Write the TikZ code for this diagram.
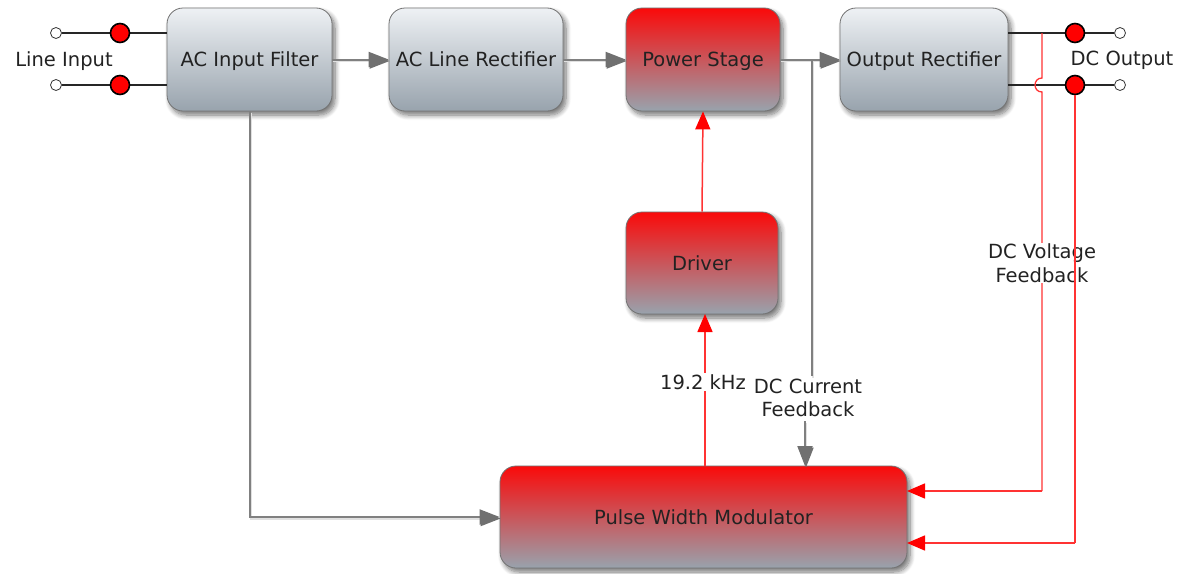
\documentclass[tikz,border=0pt]{standalone}
\usepackage{fontspec}
\setmainfont{DejaVu Sans}
\usetikzlibrary{arrows.meta,shadows.blur,calc}
\definecolor{boxtop}{HTML}{EEF1F4}
\definecolor{boxbot}{HTML}{98A3AD}
\definecolor{hotred}{HTML}{FA0A0A}
\definecolor{wire}{HTML}{808080}
\definecolor{tipgray}{HTML}{707070}
\definecolor{sigred}{HTML}{FF3333}
\definecolor{txt}{HTML}{222222}
\tikzset{
  block/.style={draw=black!55, line width=0.8pt, rounded corners=16pt,
    minimum height=103pt, text=txt, font=\fontsize{19.5}{23}\selectfont,
    text height=14.2pt, text depth=0pt,
    blur shadow={shadow xshift=3pt, shadow yshift=-4pt, shadow blur radius=5pt,
      shadow blur steps=8, shadow opacity=55}},
  grayblock/.style={block, top color=boxtop, bottom color=boxbot},
  redblock/.style={block, top color=hotred, bottom color=boxbot},
  flow/.style={draw=wire, line width=2pt,
    -{Triangle[length=20pt,width=15pt,color=tipgray]},
    preaction={draw=black!12, line width=2pt, transform canvas={shift={(1pt,-1.5pt)}}}},
  flowline/.style={draw=wire, line width=1.6pt,
    preaction={draw=black!12, line width=1.6pt, transform canvas={shift={(1pt,-1.5pt)}}}},
  sig/.style={draw=sigred, line width=1.5pt,
    -{Triangle[length=18pt,width=15pt,color=red]}},
  sigline/.style={draw=sigred, line width=1.3pt},
  lead/.style={draw=black!85, line width=1.5pt},
  opent/.style={circle, draw=black!80, fill=white, line width=0.8pt, minimum size=11pt, inner sep=0pt},
  redt/.style={circle, draw=black, fill=red, line width=1.6pt, minimum size=19pt, inner sep=0pt},
  lbl/.style={text=txt, font=\fontsize{19.5}{23.5}\selectfont, align=center, inner sep=1pt},
}
\begin{document}
\begin{tikzpicture}[x=1pt,y=-1pt]
\useasboundingbox (0,0) rectangle (1183,573);

% main blocks
\node[grayblock, minimum width=165pt] (acf) at (249.5,59.5) {AC Input Filter};
\node[grayblock, minimum width=174pt] (acr) at (476,59.5) {AC Line Rectifier};
\node[redblock,  minimum width=154pt] (ps)  at (703,59.5) {Power Stage};
\node[grayblock, minimum width=168pt] (orc) at (924,59.5) {Output Rectifier};
\node[redblock,  minimum width=152pt, minimum height=102pt] (drv) at (702,263) {Driver};
\node[redblock,  minimum width=407pt, minimum height=102pt] (pwm) at (703.5,517) {Pulse Width Modulator};

% input terminals
\node[opent] (in1) at (56,33) {};
\node[opent] (in2) at (56,85) {};
\coordinate (f1) at (167,33);
\coordinate (f2) at (167,85);
\draw[lead] (in1) -- (f1);
\draw[lead] (in2) -- (f2);
\node[redt] (r1) at (120,33) {};
\node[redt] (r2) at (120,85) {};
\node[lbl] (lin) at (64,61) {Line Input};

% output terminals
\coordinate (o1) at (1008,33);
\coordinate (o2) at (1008,85);
\node[opent] (out1) at (1120,33) {};
\node[opent] (out2) at (1120,85) {};
\draw[lead] (o1) -- (out1);
\draw[lead] (o2) -- (out2);
\node[redt] (q1) at (1075,33) {};
\node[redt] (q2) at (1075,85) {};
\node[lbl] (lout) at (1122,60) {DC Output};

% power path
\draw[flow] (acf.east) -- (acr.west);
\draw[flow] (acr.east) -- (ps.west);
\draw[flow] (ps.east) -- (orc.west);

% line sense from the input filter
\draw[flow] (acf.south) |- (pwm.west);

% current feedback
\coordinate (cf0) at (812,60);
\node[lbl] (cfl) at (808,398) {DC Current\\Feedback};
\coordinate (cf1) at (812,376);
\coordinate (cf2) at (805,421);
\coordinate (cf3) at (805,466);
\draw[flowline] (cf0) -- (cf1);
\draw[flow] (cf2) -- (cf3);

% drive chain
\draw[sig] (drv.north) -- (ps.south);
\coordinate (pw) at (705,466);
\coordinate (dr) at (705,314);
\draw[sig] (pw) -- (dr);
\node[lbl, fill=white] (khz) at (703,382) {19.2 kHz};

% voltage feedback with a hop over the return lead
\coordinate (v0) at (1042,33);
\coordinate (v1) at (1042,78);
\coordinate (v2) at (1042,92);
\coordinate (v3) at (1042,491);
\coordinate (pin1) at (907,491);
\draw[sigline] (v0) -- (v1) .. controls (1032.7,78) and (1032.7,92) .. (v2) -- (v3);
\draw[sig] (v3) -- (pin1);
\node[lbl, fill=white] (vfl) at (1042,263) {DC Voltage\\Feedback};

% return sense
\coordinate (w1) at (1075,543);
\coordinate (pin2) at (907,543);
\draw[sigline] (q2.south) -- (w1);
\draw[sig] (w1) -- (pin2);
\end{tikzpicture}
\end{document}
